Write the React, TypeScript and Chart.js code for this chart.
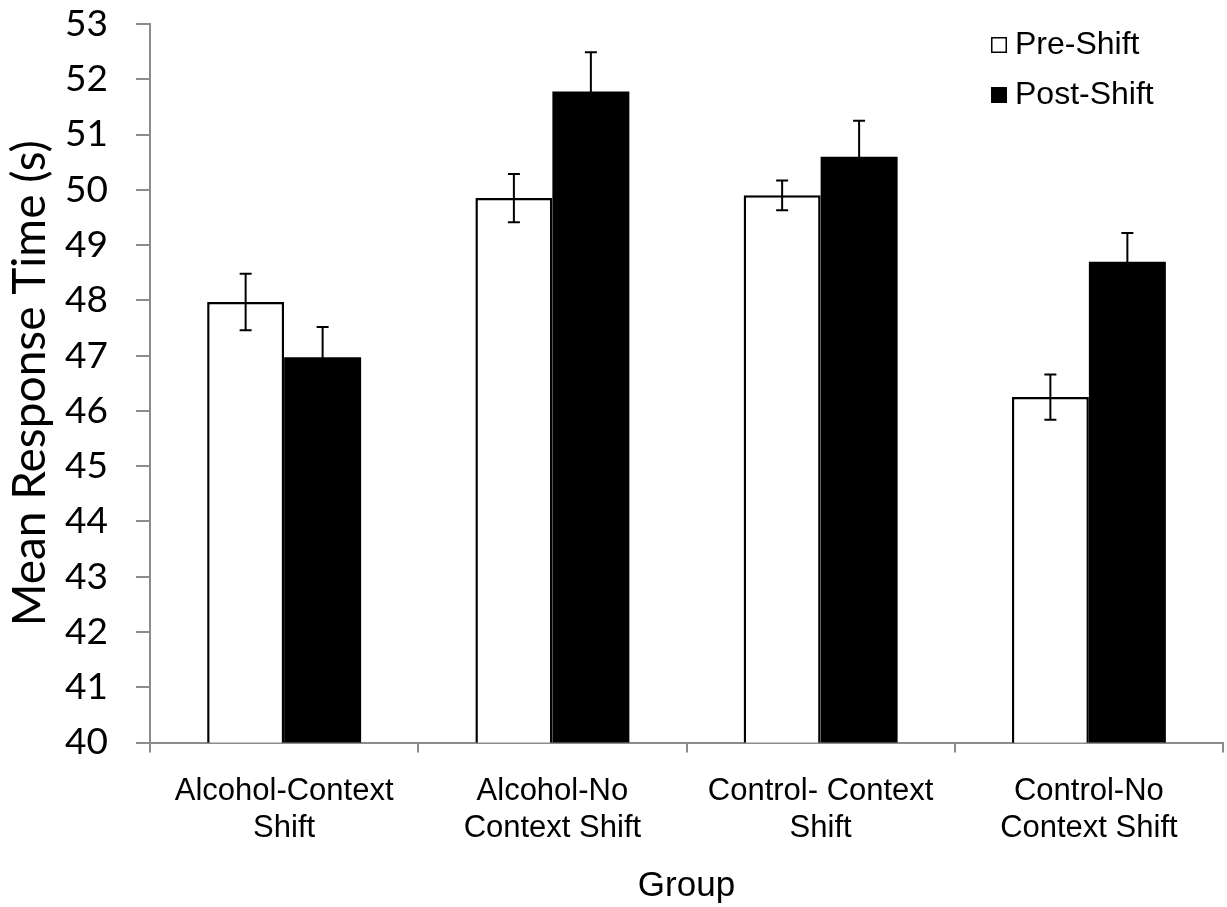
import React, { useEffect, useRef } from "react";
import { Chart, registerables } from "chart.js";

Chart.register(...registerables);

const categories: string[][] = [
  ["Alcohol-Context", "Shift"],
  ["Alcohol-No", "Context Shift"],
  ["Control- Context", "Shift"],
  ["Control-No", "Context Shift"],
];
const preShift = [47.97, 49.85, 49.9, 46.25];
const preShiftErr = [0.51, 0.435, 0.27, 0.41];
const postShift = [46.97, 51.78, 50.6, 48.7];
const postShiftErr = [0.55, 0.71, 0.65, 0.52];
const yMin = 40;
const yMax = 53;
const yStep = 1;

const errorBars = {
  id: "errorBars",
  afterDatasetsDraw(chart: any) {
    const ctx = chart.ctx;
    const y = chart.scales.y;
    chart.data.datasets.forEach((ds: any, i: number) => {
      const meta = chart.getDatasetMeta(i);
      meta.data.forEach((bar: any, j: number) => {
        const v = ds.data[j];
        const e = ds.errors[j];
        const yt = y.getPixelForValue(v + e);
        const yb = y.getPixelForValue(v - e);
        ctx.save();
        ctx.strokeStyle = "#000";
        ctx.lineWidth = 2;
        ctx.beginPath();
        ctx.moveTo(bar.x, yt);
        ctx.lineTo(bar.x, yb);
        ctx.moveTo(bar.x - 6, yt);
        ctx.lineTo(bar.x + 6, yt);
        ctx.moveTo(bar.x - 6, yb);
        ctx.lineTo(bar.x + 6, yb);
        ctx.stroke();
        ctx.restore();
      });
    });
  },
};

const customLegend = {
  id: "customLegend",
  afterDraw(chart: any) {
    const ctx = chart.ctx;
    ctx.save();
    const rows = [{ y: 45 }, { y: 95 }];
    chart.data.datasets.forEach((ds: any, i: number) => {
      const r = rows[i];
      ctx.fillStyle = ds.backgroundColor;
      ctx.fillRect(991, r.y - 8, 16, 16);
      ctx.strokeStyle = "#000";
      ctx.lineWidth = 1.5;
      ctx.strokeRect(991.75, r.y - 7.25, 14.5, 14.5);
      ctx.fillStyle = "#000";
      ctx.font = "32px 'Liberation Sans', Arial, sans-serif";
      ctx.textBaseline = "middle";
      ctx.textAlign = "left";
      ctx.fillText(ds.label, 1015, r.y);
    });
    ctx.restore();
  },
};

export default function App() {
  const ref = useRef<HTMLCanvasElement>(null);
  useEffect(() => {
    if (!ref.current) return;
    const axisColor = "#8c8c8c";
    const chart = new Chart(ref.current, {
      type: "bar",
      data: {
        labels: categories,
        datasets: [
          {
            label: "Pre-Shift",
            data: preShift,
            errors: preShiftErr,
            backgroundColor: "#fff",
            borderColor: "#000",
            borderWidth: 2.5,
            borderSkipped: false,
            categoryPercentage: 0.574,
            barPercentage: 1,
          } as any,
          {
            label: "Post-Shift",
            data: postShift,
            errors: postShiftErr,
            backgroundColor: "#000",
            borderColor: "#000",
            borderWidth: 0,
            categoryPercentage: 0.574,
            barPercentage: 1,
          } as any,
        ],
      },
      options: {
        animation: false,
        responsive: false,
        maintainAspectRatio: false,
        layout: { padding: { top: 0, right: 4, left: 0, bottom: 0 } },
        plugins: { legend: { display: false }, tooltip: { enabled: false } },
        scales: {
          x: {
            grid: {
              drawOnChartArea: false,
              drawTicks: true,
              tickLength: 10,
              color: axisColor,
              lineWidth: 2,
              offset: true,
            },
            border: { color: axisColor, width: 2 },
            ticks: {
              color: "#000",
              padding: 20,
              maxRotation: 0,
              autoSkip: false,
              font: { family: "'Liberation Sans', Arial, sans-serif", size: 31, lineHeight: 1.2 },
            },
            title: {
              display: true,
              text: "Group",
              color: "#000",
              font: { family: "'Liberation Sans', Arial, sans-serif", size: 35, lineHeight: 1.2 },
              padding: { top: 0, bottom: 0 },
            },
            afterFit(scale: any) {
              scale.height = 907 - 742.5;
            },
          },
          y: {
            min: yMin,
            max: yMax,
            grid: {
              drawOnChartArea: false,
              drawTicks: true,
              tickLength: 14,
              color: axisColor,
              lineWidth: 2,
            },
            border: { color: axisColor, width: 2 },
            ticks: {
              stepSize: yStep,
              color: "#000",
              padding: 28,
              font: { family: "Lato, 'Open Sans', sans-serif", size: 37 },
            },
            title: {
              display: true,
              text: "Mean Response Time (s)",
              color: "#000",
              font: { family: "Lato, 'Open Sans', sans-serif", size: 46, lineHeight: 1.2 },
              padding: { top: 3, bottom: 0 },
            },
            afterFit(scale: any) {
              scale.width = 150;
              scale.paddingTop = 24;
            },
          },
        },
      },
      plugins: [errorBars, customLegend],
    });
    return () => chart.destroy();
  }, []);
  return (
    <div style={{ position: "fixed", left: 0, top: 0, width: 1227, height: 907, background: "#fff" }}>
      <canvas ref={ref} width={1227} height={907} style={{ width: 1227, height: 907 }} />
    </div>
  );
}
